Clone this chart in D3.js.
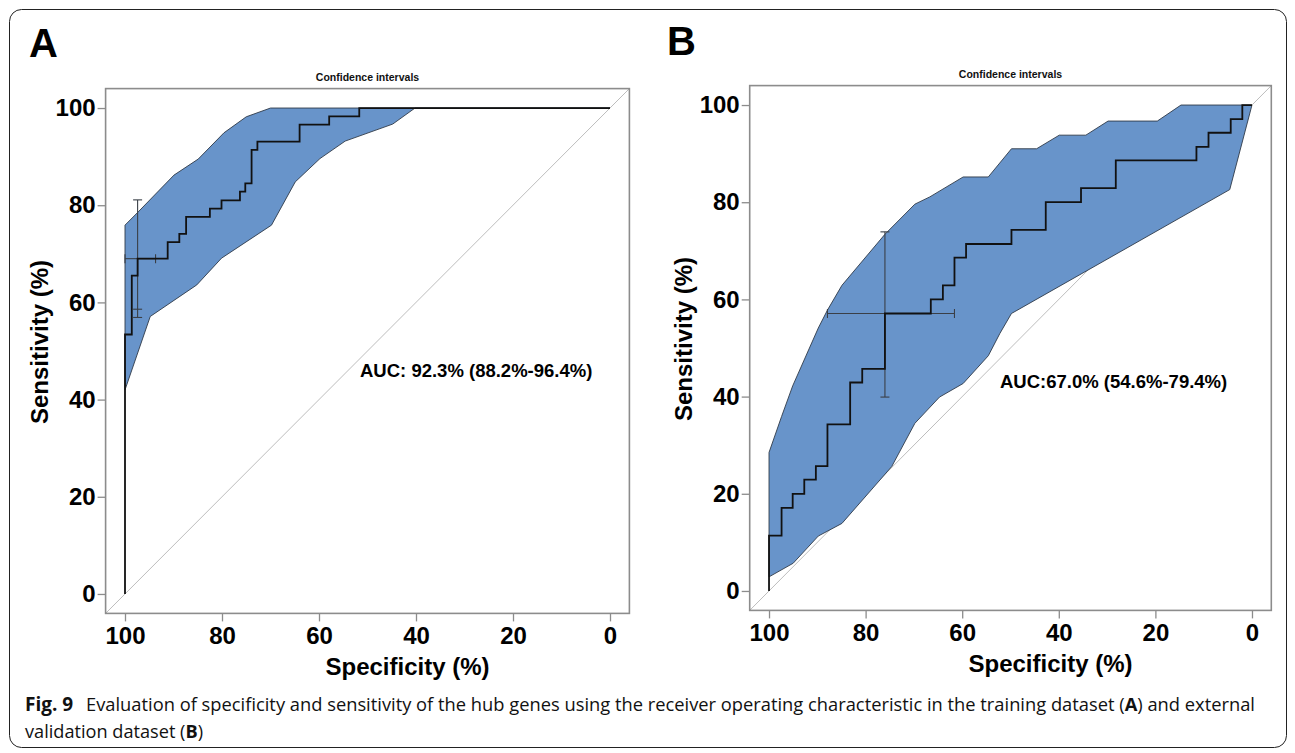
<!DOCTYPE html>
<html><head><meta charset="utf-8">
<script src="https://cdn.jsdelivr.net/npm/d3@7"></script>
<style>body{margin:0;background:#fff}</style>
</head><body>
<svg id="chart" width="1295" height="753"></svg>
<script>
// ---------- data ----------
const tickValues = [0, 20, 40, 60, 80, 100];
const tickLabels = ["0", "20", "40", "60", "80", "100"];
const panelLetters = ["A", "B"];
const panelTitle = "Confidence intervals";
const xTitle = "Specificity (%)";
const yTitle = "Sensitivity (%)";
const aucLabels = ["AUC: 92.3% (88.2%-96.4%)", "AUC:67.0% (54.6%-79.4%)"];

// Panel A ROC (step-before vertices: specificity %, sensitivity %)
const rocA_spec = [100, 98.6, 97.4, 91.2, 88.8, 87.4, 82.5, 80.1, 76.3, 75.2, 73.9, 72.7, 64.0, 57.9, 51.7, 0];
const rocA_sens = [0, 53.4, 65.5, 69.0, 72.4, 74.1, 77.6, 79.3, 81.0, 82.8, 84.5, 91.4, 93.1, 96.6, 98.3, 100];
// Panel A CI band
const ciA_upper_spec = [100, 97.4, 89.9, 84.9, 79.6, 75.0, 70.0, 0];
const ciA_upper_sens = [75.9, 78.5, 86.2, 89.5, 94.9, 98.2, 100, 100];
const ciA_lower_spec = [0, 40.2, 44.8, 54.6, 59.8, 64.9, 69.8, 80.1, 85.2, 94.8, 100];
const ciA_lower_sens = [100, 100, 96.7, 93.2, 89.6, 84.8, 75.9, 69.1, 63.6, 57.1, 42.0];
// Panel A error bars
const errA_vert = {spec: 97.4, lo: 56.9, hi: 81.1, extra: 58.6};
const errA_horiz = {sens: 69.0, lo: 93.7, hi: 100};

// Panel B ROC
const rocB_spec = [100, 97.4, 95.1, 92.7, 90.3, 87.9, 83.2, 80.7, 76.0, 66.5, 64.0, 61.6, 59.2, 49.8, 42.7, 35.4, 28.2, 11.5, 9.0, 4.4, 2.0, 0];
const rocB_sens = [0, 11.4, 17.1, 20.0, 22.9, 25.7, 34.3, 42.9, 45.7, 57.1, 60.0, 62.9, 68.6, 71.4, 74.3, 80.0, 82.9, 88.6, 91.4, 94.3, 97.1, 100];
// Panel B CI band
const ciB_upper_spec = [100, 97.4, 95.1, 89.8, 87.9, 84.9, 76.0, 69.8, 66.7, 59.8, 54.6, 49.8, 44.6, 39.9, 34.4, 29.8, 19.6, 14.7, 0];
const ciB_upper_sens = [28.5, 35.9, 42.2, 54.1, 57.8, 62.9, 73.4, 79.6, 81.1, 85.2, 85.2, 91.0, 91.0, 93.8, 93.8, 96.7, 96.7, 100, 100];
const ciB_lower_spec = [0, 4.6, 49.8, 52.2, 54.6, 59.8, 64.7, 69.8, 74.6, 84.9, 89.8, 95.0, 100];
const ciB_lower_sens = [100, 82.6, 57.1, 53.0, 48.4, 42.7, 39.9, 34.5, 25.6, 13.9, 11.3, 5.7, 2.9];
// Panel B error bars
const errB_vert = {spec: 76.0, lo: 39.9, hi: 73.9, extra: null};
const errB_horiz = {sens: 57.1, lo: 61.6, hi: 87.9};

const captionBold = "Fig. 9";
const captionLine1 = "Evaluation of specificity and sensitivity of the hub genes using the receiver operating characteristic in the training dataset (";
const captionLine1End = ") and external";
const captionLine2 = "validation dataset (";

// ---------- drawing ----------
const svg = d3.select("#chart");
const FONT = "'Liberation Sans', Arial, Helvetica, sans-serif";

svg.append("rect").attr("x", 9.5).attr("y", 9.5).attr("width", 1277).attr("height", 738)
  .attr("rx", 12).attr("fill", "none").attr("stroke", "#222").attr("stroke-width", 1);

const zip = (a, b) => a.map((v, i) => [v, b[i]]);

const panels = [
  {letter: panelLetters[0], letterX: 29, letterY: 57, box: [105.6, 88.6, 629.4, 613.4],
   roc: zip(rocA_spec, rocA_sens), up: zip(ciA_upper_spec, ciA_upper_sens), low: zip(ciA_lower_spec, ciA_lower_sens),
   ev: errA_vert, eh: errA_horiz, auc: aucLabels[0], aucPos: [360, 377]},
  {letter: panelLetters[1], letterX: 667, letterY: 55, box: [749.7, 85.6, 1271.3, 610.4],
   roc: zip(rocB_spec, rocB_sens), up: zip(ciB_upper_spec, ciB_upper_sens), low: zip(ciB_lower_spec, ciB_lower_sens),
   ev: errB_vert, eh: errB_horiz, auc: aucLabels[1], aucPos: [1000, 388]}
];

panels.forEach(p => {
  const [x0, y0, x1, y1] = p.box;
  const x = d3.scaleLinear().domain([104, -4]).range([x0, x1]);
  const y = d3.scaleLinear().domain([-4, 104]).range([y1, y0]);
  const g = svg.append("g");

  g.append("text").attr("x", p.letterX).attr("y", p.letterY).text(p.letter)
    .attr("font-family", FONT).attr("font-weight", "bold").attr("font-size", 40).attr("fill", "#000");

  g.append("text").attr("x", (x0 + x1) / 2).attr("y", y0 - 8).attr("text-anchor", "middle")
    .text(panelTitle).attr("font-family", FONT).attr("font-weight", "bold").attr("font-size", 10.5)
    .attr("fill", "#111");

  // diagonal reference line (sens = 100 - spec)
  g.append("line").attr("x1", x(104)).attr("y1", y(-4)).attr("x2", x(-4)).attr("y2", y(104))
    .attr("stroke", "#bdbdbd").attr("stroke-width", 1);

  // CI band
  const band = p.up.concat(p.low);
  g.append("path").datum(band)
    .attr("d", d3.line().x(d => x(d[0])).y(d => y(d[1])).curve(d3.curveLinearClosed))
    .attr("fill", "#6894ca").attr("stroke", "#2f3a48").attr("stroke-width", 0.9);

  // error bars
  const eb = g.append("g").attr("stroke", "#3a3f47").attr("stroke-width", 1.1).attr("fill", "none");
  const cap = 4.5;
  eb.append("line").attr("x1", x(p.ev.spec)).attr("x2", x(p.ev.spec)).attr("y1", y(p.ev.lo)).attr("y2", y(p.ev.hi));
  [p.ev.lo, p.ev.hi].concat(p.ev.extra != null ? [p.ev.extra] : []).forEach(v => {
    eb.append("line").attr("x1", x(p.ev.spec) - cap).attr("x2", x(p.ev.spec) + cap).attr("y1", y(v)).attr("y2", y(v));
  });
  eb.append("line").attr("x1", x(p.eh.lo)).attr("x2", x(p.eh.hi)).attr("y1", y(p.eh.sens)).attr("y2", y(p.eh.sens));
  [p.eh.lo, p.eh.hi].forEach(v => {
    eb.append("line").attr("x1", x(v)).attr("x2", x(v)).attr("y1", y(p.eh.sens) - cap).attr("y2", y(p.eh.sens) + cap);
  });

  // ROC step curve
  g.append("path").datum(p.roc)
    .attr("d", d3.line().x(d => x(d[0])).y(d => y(d[1])).curve(d3.curveStepBefore))
    .attr("fill", "none").attr("stroke", "#111").attr("stroke-width", 1.8);

  // plot box
  g.append("rect").attr("x", x0).attr("y", y0).attr("width", x1 - x0).attr("height", y1 - y0)
    .attr("fill", "none").attr("stroke", "#8c8c8c").attr("stroke-width", 1.6);

  // axes
  const yAxis = d3.axisLeft(y).tickValues(tickValues).tickFormat((d, i) => tickLabels[i]).tickSize(8).tickPadding(2);
  const xAxis = d3.axisBottom(x).tickValues(tickValues).tickFormat((d, i) => tickLabels[i]).tickSize(8).tickPadding(6);
  const ya = g.append("g").attr("transform", `translate(${x0},0)`).call(yAxis);
  const xa = g.append("g").attr("transform", `translate(0,${y1})`).call(xAxis);
  [ya, xa].forEach(a => {
    a.select(".domain").remove();
    a.selectAll(".tick line").attr("stroke", "#8c8c8c").attr("stroke-width", 1.3);
    a.selectAll(".tick text").attr("font-family", FONT).attr("font-weight", "bold")
      .attr("font-size", 24).attr("fill", "#000");
  });

  g.append("text").attr("x", (x0 + x1) / 2 + 40).attr("y", y1 + 62).attr("text-anchor", "middle")
    .text(xTitle).attr("font-family", FONT).attr("font-weight", "bold").attr("font-size", 24).attr("fill", "#000");
  g.append("text").attr("transform", `translate(${x0 - 58},${(y0 + y1) / 2 - 9}) rotate(-90)`)
    .attr("text-anchor", "middle").text(yTitle)
    .attr("font-family", FONT).attr("font-weight", "bold").attr("font-size", 24).attr("fill", "#000");

  g.append("text").attr("x", p.aucPos[0]).attr("y", p.aucPos[1]).text(p.auc)
    .attr("font-family", FONT).attr("font-weight", "bold").attr("font-size", 18.5).attr("fill", "#000");
});

// caption
const CFONT = "'Open Sans', 'Noto Sans', sans-serif";
svg.append("text").attr("x", 25).attr("y", 711).attr("font-family", CFONT).attr("font-size", 19)
  .attr("font-weight", "bold").attr("fill", "#111").text(captionBold);
const t1 = svg.append("text").attr("x", 86).attr("y", 711).attr("font-family", CFONT).attr("font-size", 18)
  .attr("fill", "#111").attr("textLength", 1169).attr("lengthAdjust", "spacingAndGlyphs");
t1.append("tspan").text(captionLine1);
t1.append("tspan").attr("font-weight", "bold").text("A");
t1.append("tspan").text(captionLine1End);
const t2 = svg.append("text").attr("x", 25).attr("y", 738).attr("font-family", CFONT).attr("font-size", 18)
  .attr("fill", "#111").attr("textLength", 178).attr("lengthAdjust", "spacingAndGlyphs");
t2.append("tspan").text(captionLine2);
t2.append("tspan").attr("font-weight", "bold").text("B");
t2.append("tspan").text(")");
</script>
</body></html>
